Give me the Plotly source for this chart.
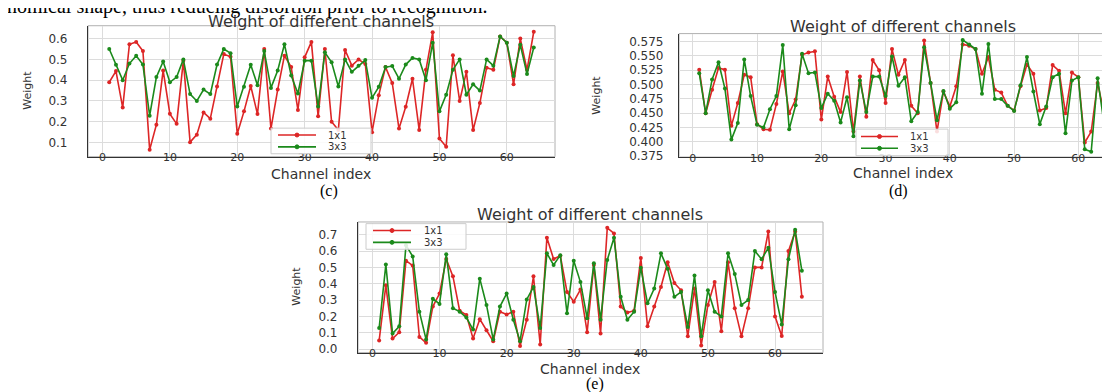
import plotly.graph_objects as go

# ---------------- data ----------------
channels = list(range(1, 65))
series_names = ["1x1", "3x3"]

c_1x1 = [0.39, 0.444, 0.268, 0.573, 0.584, 0.54, 0.065, 0.186, 0.447, 0.238,
         0.19, 0.494, 0.102, 0.138, 0.245, 0.215, 0.37, 0.526, 0.513, 0.142,
         0.25, 0.372, 0.237, 0.55, 0.167, 0.355, 0.518, 0.463, 0.257, 0.51,
         0.584, 0.226, 0.55, 0.2, 0.16, 0.545, 0.47, 0.5, 0.478, 0.15,
         0.328, 0.463, 0.386, 0.167, 0.272, 0.407, 0.16, 0.45, 0.63, 0.12,
         0.08, 0.52, 0.30, 0.44, 0.16, 0.29, 0.46, 0.45, 0.61, 0.58,
         0.38, 0.60, 0.45, 0.633]
c_3x3 = [0.55, 0.474, 0.40, 0.48, 0.518, 0.475, 0.229, 0.415, 0.49, 0.39,
         0.415, 0.50, 0.333, 0.30, 0.355, 0.333, 0.475, 0.55, 0.53, 0.273,
         0.368, 0.474, 0.376, 0.54, 0.363, 0.447, 0.573, 0.423, 0.336, 0.494,
         0.494, 0.273, 0.534, 0.486, 0.37, 0.50, 0.44, 0.47, 0.497, 0.315,
         0.368, 0.463, 0.468, 0.407, 0.475, 0.507, 0.50, 0.40, 0.58, 0.25,
         0.33, 0.45, 0.50, 0.33, 0.38, 0.35, 0.50, 0.47, 0.61, 0.58,
         0.42, 0.57, 0.43, 0.557]

d_1x1 = [0.526, 0.45, 0.491, 0.529, 0.526, 0.428, 0.468, 0.517, 0.513, 0.431,
         0.422, 0.421, 0.466, 0.523, 0.45, 0.474, 0.552, 0.556, 0.558, 0.439,
         0.514, 0.479, 0.452, 0.522, 0.418, 0.514, 0.444, 0.543, 0.525, 0.468,
         0.562, 0.517, 0.543, 0.463, 0.45, 0.577, 0.503, 0.418, 0.488, 0.462,
         0.497, 0.57, 0.568, 0.562, 0.519, 0.548, 0.491, 0.486, 0.463, 0.455,
         0.497, 0.535, 0.519, 0.455, 0.459, 0.534, 0.524, 0.45, 0.521, 0.513,
         0.399, 0.418, 0.503, 0.45]
d_3x3 = [0.52, 0.45, 0.509, 0.539, 0.493, 0.404, 0.433, 0.544, 0.48, 0.43,
         0.425, 0.457, 0.48, 0.569, 0.422, 0.464, 0.554, 0.52, 0.521, 0.459,
         0.484, 0.472, 0.434, 0.478, 0.41, 0.507, 0.452, 0.514, 0.514, 0.48,
         0.549, 0.498, 0.513, 0.436, 0.452, 0.565, 0.503, 0.438, 0.489, 0.458,
         0.469, 0.578, 0.57, 0.562, 0.484, 0.571, 0.475, 0.475, 0.463, 0.454,
         0.499, 0.548, 0.488, 0.431, 0.462, 0.513, 0.519, 0.415, 0.507, 0.513,
         0.387, 0.383, 0.511, 0.432]

e_1x1 = [0.052, 0.39, 0.064, 0.103, 0.541, 0.511, 0.074, 0.038, 0.26, 0.34,
         0.551, 0.445, 0.235, 0.209, 0.064, 0.183, 0.115, 0.048, 0.229, 0.212,
         0.229, 0.018, 0.179, 0.445, 0.028, 0.682, 0.551, 0.571, 0.35, 0.29,
         0.364, 0.103, 0.515, 0.095, 0.742, 0.708, 0.26, 0.223, 0.235, 0.557,
         0.139, 0.26, 0.38, 0.531, 0.404, 0.36, 0.078, 0.37, 0.022, 0.27,
         0.41, 0.109, 0.531, 0.25, 0.078, 0.25, 0.50, 0.50, 0.72, 0.20,
         0.08, 0.60, 0.72, 0.32]
e_3x3 = [0.129, 0.517, 0.095, 0.139, 0.636, 0.567, 0.229, 0.058, 0.308, 0.276,
         0.581, 0.25, 0.229, 0.193, 0.119, 0.431, 0.27, 0.058, 0.26, 0.34,
         0.179, 0.048, 0.304, 0.38, 0.129, 0.586, 0.515, 0.575, 0.219, 0.541,
         0.41, 0.189, 0.525, 0.179, 0.545, 0.682, 0.32, 0.179, 0.229, 0.497,
         0.28, 0.37, 0.586, 0.491, 0.32, 0.35, 0.135, 0.45, 0.078, 0.36,
         0.229, 0.20, 0.586, 0.46, 0.27, 0.30, 0.60, 0.55, 0.62, 0.35,
         0.15, 0.55, 0.73, 0.48]

x_ticks = [0, 10, 20, 30, 40, 50, 60]
c_yticks = [0.1, 0.2, 0.3, 0.4, 0.5, 0.6]
d_yticks = [0.375, 0.400, 0.425, 0.450, 0.475, 0.500, 0.525, 0.550, 0.575]
e_yticks = [0.0, 0.1, 0.2, 0.3, 0.4, 0.5, 0.6, 0.7]

title_text = "Weight of different channels"
xlabel_text = "Channel index"
ylabel_text = "Weight"
captions = ["(c)", "(d)", "(e)"]
body_text = "nomical shape, thus reducing distortion prior to recognition."

# ---------------- styling / layout ----------------
W, H = 1110, 392
RED = "#dd2626"
GREEN = "#1b8a1b"
COLORS = [RED, GREEN]
FONT = "DejaVu Sans"
SERIF = "Liberation Serif"
TXT = "#333333"

def fx(p):
    return p / W

def fy(p):
    return 1 - p / H

fig = go.Figure()

panels = [
    ("x", "y", c_1x1, c_3x3),
    ("x2", "y2", d_1x1, d_3x3),
    ("x3", "y3", e_1x1, e_3x3),
]
for xa, ya, s1, s2 in panels:
    for name, vals, col in zip(series_names, (s1, s2), COLORS):
        fig.add_trace(go.Scatter(
            x=channels, y=vals, name=name, mode="lines+markers",
            line=dict(color=col, width=1.6),
            marker=dict(color=col, size=4),
            xaxis=xa, yaxis=ya, showlegend=False,
        ))

def xaxis_style():
    return dict(showgrid=True, gridcolor="#dcdcdc", gridwidth=1, zeroline=False,
                showline=True, linecolor="#333333", linewidth=1.2, ticks="",
                tickvals=x_ticks, ticklabelstandoff=-10,
                tickfont=dict(family=FONT, size=11, color=TXT))

def yaxis_style(standoff):
    return dict(showgrid=True, gridcolor="#dcdcdc", gridwidth=1, zeroline=False,
                showline=True, linecolor="#333333", linewidth=1.2, ticks="",
                ticklabelstandoff=standoff,
                tickfont=dict(family=FONT, size=12, color=TXT))

# panel geometry in pixels: (left, right, top, bottom)
geo_c = (80, 547, 18, 151)
geo_d = (671, 1110, 26, 151.7)
geo_e = (350, 815, 217.3, 350)

def xdom(g):
    return [fx(g[0]), min(1.0, fx(g[1]))]

def ydom(g):
    return [fy(g[3]), fy(g[2])]

fig.update_layout(
    width=W, height=H, margin=dict(l=0, r=0, t=0, b=0),
    paper_bgcolor="white", plot_bgcolor="white", showlegend=False,
    xaxis=dict(domain=xdom(geo_c), range=[-2.15, 67.15], anchor="y", **xaxis_style()),
    yaxis=dict(domain=ydom(geo_c), range=[0.032, 0.662], tickvals=c_yticks,
               ticktext=[f"{v:.1f}" for v in c_yticks], anchor="x", **yaxis_style(17)),
    xaxis2=dict(domain=xdom(geo_d), range=[-2.15, 66.17], anchor="y2", **xaxis_style()),
    yaxis2=dict(domain=ydom(geo_d), range=[0.373, 0.589], tickvals=d_yticks,
                ticktext=[f"{v:.3f}" for v in d_yticks], anchor="x2", **yaxis_style(12)),
    xaxis3=dict(domain=xdom(geo_e), range=[-2.15, 67.15], anchor="y3", **xaxis_style()),
    yaxis3=dict(domain=ydom(geo_e), range=[-0.022, 0.778], tickvals=e_yticks,
                ticktext=[f"{v:.1f}" for v in e_yticks], anchor="x3", **yaxis_style(17)),
)

shapes = []
# light frame round each panel
for xa, ya in (("x", "y"), ("x2", "y2"), ("x3", "y3")):
    shapes.append(dict(type="rect", xref=f"{xa} domain", yref=f"{ya} domain",
                       x0=0, x1=1, y0=0, y1=1, line=dict(color="#b0b0b0", width=1), layer="below"))

ann = []
# legend boxes (matplotlib-style, drawn in pixel positions)
legend_geo = [
    # box left, top, right, bottom, row1 y, row2 y, line x0, line x1, text x
    (263, 122, 363, 148, 129, 141, 270, 308, 318),
    (848, 123, 940, 150, 130.5, 142.5, 853, 890, 900),
    (358, 219, 458, 245, 226, 238, 365, 403, 414),
]
for (bl, bt, br, bb, r1, r2, l0, l1, tx) in legend_geo:
    shapes.append(dict(type="rect", xref="paper", yref="paper", x0=fx(bl), x1=fx(br),
                       y0=fy(bb), y1=fy(bt), line=dict(color="#cccccc", width=1),
                       fillcolor="rgba(255,255,255,0.85)", layer="above"))
    for name, col, ry in zip(series_names, COLORS, (r1, r2)):
        shapes.append(dict(type="line", xref="paper", yref="paper", x0=fx(l0), x1=fx(l1),
                           y0=fy(ry), y1=fy(ry), line=dict(color=col, width=1.6), layer="above"))
        mx = (l0 + l1) / 2
        shapes.append(dict(type="circle", xref="paper", yref="paper", x0=fx(mx - 2), x1=fx(mx + 2),
                           y0=fy(ry + 2), y1=fy(ry - 2), line=dict(color=col, width=1),
                           fillcolor=col, layer="above"))
        ann.append(dict(text=name, x=fx(tx), y=fy(ry), xref="paper", yref="paper",
                        showarrow=False, xanchor="left", yanchor="middle",
                        font=dict(family=FONT, size=10, color=TXT)))
fig.update_layout(shapes=shapes)

for cx, ty in ((313, 14), (895, 19), (582, 210)):
    ann.append(dict(text=title_text, x=fx(cx), y=fy(ty), xref="paper", yref="paper",
                    showarrow=False, xanchor="center", yanchor="middle",
                    font=dict(family=FONT, size=16, color=TXT)))
for cx, cy in ((313, 169), (895, 168), (582, 367)):
    ann.append(dict(text=xlabel_text, x=fx(cx), y=fy(cy), xref="paper", yref="paper",
                    showarrow=False, xanchor="center", yanchor="middle",
                    font=dict(family=FONT, size=14, color=TXT)))
for cx, cy in ((20, 84), (589, 89), (289, 283)):
    ann.append(dict(text=ylabel_text, x=fx(cx), y=fy(cy), xref="paper", yref="paper",
                    showarrow=False, xanchor="center", yanchor="middle", textangle=-90,
                    font=dict(family=FONT, size=11, color=TXT)))
for cap, cx, cy in zip(captions, (321, 890, 587), (186, 186, 382)):
    ann.append(dict(text=cap, x=fx(cx), y=fy(cy), xref="paper", yref="paper",
                    showarrow=False, xanchor="center", yanchor="middle",
                    font=dict(family=SERIF, size=16, color="black")))
ann.append(dict(text=body_text, x=fx(-3), y=fy(-2), xref="paper", yref="paper",
                showarrow=False, xanchor="left", yanchor="middle",
                font=dict(family=SERIF, size=20, color="black")))
fig.update_layout(annotations=ann)

fig.write_html("out.html")
